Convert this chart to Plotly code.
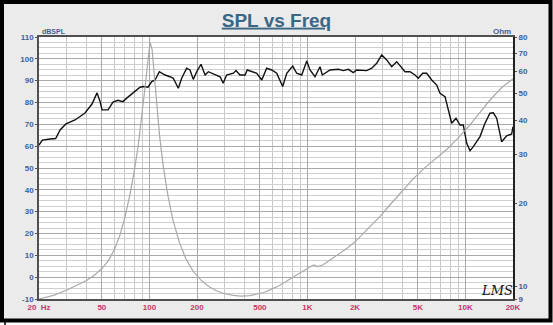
import plotly.graph_objects as go
import math

# ---------------- data ----------------
spl_freq = [20, 21, 23.5, 25.5, 27.2, 29.6, 33.8, 39.1, 43.3, 44.6, 46.6, 48.7, 50.1, 54.7,
            58.8, 63.2, 68, 71.8, 78.7, 87.2, 91.5, 97.9, 103.4, 108.5, 115.5, 125.5, 135,
            141.6, 152.3, 160, 172, 180.6, 189.5, 199, 212, 225, 236, 260, 280, 293, 308,
            340, 353, 374, 403, 416, 455, 478, 514, 552, 594, 639, 697, 740, 807, 855, 920,
            990, 1038, 1117, 1201, 1242, 1390, 1568, 1687, 1815, 1951, 2050, 2372, 2551,
            2745, 2952, 3175, 3415, 3672, 3950, 4145, 4459, 4795, 5032, 5366, 5688, 6117,
            6578, 6903, 7424, 7791, 8186, 8716, 9237, 9693, 10186, 10689, 11216, 12364,
            13294, 14297, 15005, 15766, 16958, 18239, 19618, 20000]
spl_db = [60.5, 62.8, 63.3, 63.5, 67.4, 70.2, 72, 75.2, 79.3, 81.1, 84.4, 80.5, 76.6, 76.6,
          80.2, 81, 80.4, 82, 84.2, 87, 87.3, 87, 89.6, 90.3, 94.1, 92.6, 91.8,
          91.1, 86.5, 91.1, 95.7, 94.9, 90.6, 94.1, 97.5, 92.6, 94.1, 92.6, 91.8, 88.8, 92.6,
          93.4, 94.6, 92.6, 92.6, 94.9, 94.1, 93.4, 90.3, 95.7, 94.9, 93.4, 87.3, 93.4, 96.7, 93.4, 92.6,
          99, 94.9, 91.8, 96.4, 92.6, 94.9, 95.2, 94.6, 95.2, 93.7, 94.9, 94.6, 95.7,
          98, 101.8, 99.5, 96.4, 98.7, 95.7, 94.1, 94.1, 92.6, 91.1, 93.4, 93.4, 90.3,
          88, 84.2, 82.7, 76.6, 70.5, 72.8, 69.7, 69.7, 61.3, 57.9, 59.8, 64.4,
          70.5, 75.1, 75.3, 72.8, 62, 64.7, 65.6, 68.9]

imp_freq = [20, 25, 30, 35, 40, 45, 50, 55, 60, 65, 70, 75, 80, 85, 90, 95, 98, 101,
            104, 107, 111, 116, 122, 130, 140, 155, 170, 190, 215, 240, 270, 300, 340,
            380, 430, 480, 530, 590, 660, 740, 830, 920, 1000, 1060, 1100, 1150, 1250,
            1400, 1600, 1800, 2000, 2200, 2500, 2900, 3400, 4000, 4700, 5500, 6500,
            7700, 9000, 10500, 12300, 14400, 17000, 20000]
imp_ohm = [9.0, 9.3, 9.7, 10.1, 10.5, 11.0, 11.6, 12.4, 13.6, 15.3, 17.8, 21.3, 26.0,
           32.5, 42.0, 56.0, 66.0, 76.5, 72.0, 60.0, 46.5, 35.0, 27.5, 21.8, 17.6, 14.4,
           12.6, 11.3, 10.45, 9.95, 9.6, 9.4, 9.27, 9.22, 9.25, 9.35, 9.5, 9.75, 10.05,
           10.45, 10.9, 11.3, 11.6, 11.85, 11.95, 11.8, 11.95, 12.5, 13.1, 13.8, 14.5,
           15.3, 16.5, 18.0, 20.0, 22.2, 24.6, 26.8, 29.0, 31.5, 34.5, 38.0, 42.5, 47.5,
           52.5, 56.5]

x_major = [20, 50, 100, 200, 500, 1000, 2000, 5000, 10000, 20000]
x_labels = ["20  Hz", "50", "100", "200", "500", "1K", "2K", "5K", "10K", "20K"]
x_minor = [30, 40, 60, 70, 80, 90, 300, 400, 600, 700, 800, 900,
           3000, 4000, 6000, 7000, 8000, 9000]
y_ticks = [-10, 0, 10, 20, 30, 40, 50, 60, 70, 80, 90, 100, 110]
ohm_ticks = [9, 10, 20, 30, 40, 50, 60, 70, 80]

# ---------------- layout constants ----------------
W, H = 553, 325
L, R, T, B = 39, 40, 37, 26
PW, PH = W - L - R, H - T - B

def pxx(x):
    return (x - L) / PW

def pxy(y):
    return (H - B - y) / PH

def bold(vals):
    return ["<b>%s</b>" % v for v in vals]

blue = "#3f5f98"
red = "#c8336a"
font = "Liberation Sans, Arial, sans-serif"

fig = go.Figure()
fig.add_trace(go.Scatter(x=imp_freq, y=imp_ohm, mode="lines", yaxis="y2",
                         line=dict(color="#a9a9a9", width=1.2),
                         showlegend=False, hoverinfo="skip"))
fig.add_trace(go.Scatter(x=spl_freq, y=spl_db, mode="lines",
                         line=dict(color="#111111", width=1.4),
                         showlegend=False, hoverinfo="skip"))

fig.update_layout(
    width=W, height=H,
    margin=dict(l=L, r=R, t=T, b=B, pad=0),
    paper_bgcolor="#ebebeb",
    plot_bgcolor="#ffffff",
    title=dict(text="<b><u>SPL vs Freq</u></b>", x=0.5, xanchor="center",
               y=1 - 20 / H, yanchor="middle",
               font=dict(family=font, size=19, color="#3b6785")),
    xaxis=dict(type="log", range=[math.log10(20), math.log10(20000)],
               tickmode="array", tickvals=x_major, ticktext=bold(x_labels),
               tickfont=dict(family=font, size=8, color=red),
               showgrid=True, gridcolor="#a8a8a8", gridwidth=1,
               minor=dict(tickmode="array", tickvals=x_minor, showgrid=True,
                          gridcolor="#c8c8c8", gridwidth=1, ticks=""),
               showline=True, linecolor="#505050", linewidth=1.5, mirror=True,
               ticks="", zeroline=False, fixedrange=True),
    yaxis=dict(range=[-10, 110], tickmode="array", tickvals=y_ticks, ticktext=bold(y_ticks),
               tickfont=dict(family=font, size=8, color=blue),
               showgrid=True, gridcolor="#a8a8a8", gridwidth=1,
               minor=dict(dtick=2.5, showgrid=True, gridcolor="#cfcfcf", gridwidth=1, ticks=""),
               showline=True, linecolor="#505050", linewidth=1.5, mirror=True,
               ticks="outside", ticklen=2, tickcolor="#505050",
               zeroline=False, fixedrange=True),
    yaxis2=dict(type="log", overlaying="y", side="right",
                range=[math.log10(9), math.log10(80)],
                tickmode="array", tickvals=ohm_ticks, ticktext=bold(ohm_ticks),
                tickfont=dict(family=font, size=8, color=blue),
                showgrid=False, showline=True, linecolor="#222222", linewidth=2,
                ticks="outside", ticklen=2, tickcolor="#505050",
                zeroline=False, fixedrange=True),
    annotations=[
        dict(text="<b>dBSPL</b>", xref="paper", yref="paper", x=pxx(40), y=pxy(31),
             xanchor="left", yanchor="middle", showarrow=False,
             font=dict(family=font, size=7, color=blue)),
        dict(text="<b>Ohm</b>", xref="paper", yref="paper", x=pxx(513), y=pxy(31),
             xanchor="right", yanchor="middle", showarrow=False,
             font=dict(family=font, size=8, color=blue)),
        dict(text="<i>LMS</i>", xref="paper", yref="paper", x=pxx(497), y=pxy(290),
             xanchor="center", yanchor="middle", showarrow=False,
             font=dict(family="DejaVu Serif, serif", size=13, color="#111111")),
    ],
    shapes=[
        dict(type="rect", xref="paper", yref="paper", layer="above",
             x0=pxx(-5), x1=pxx(560), y0=pxy(322), y1=pxy(330),
             fillcolor="#ffffff", line=dict(width=0)),
        dict(type="rect", xref="paper", yref="paper", layer="above",
             x0=pxx(2), x1=pxx(550.5), y0=pxy(320.5), y1=pxy(2),
             fillcolor="rgba(0,0,0,0)", line=dict(color="#000000", width=4)),
        dict(type="line", xref="paper", yref="paper", layer="above",
             x0=pxx(5), x1=pxx(5), y0=pxy(322), y1=pxy(326),
             line=dict(color="#000000", width=1.5)),
    ],
)

fig.write_html("out.html")
